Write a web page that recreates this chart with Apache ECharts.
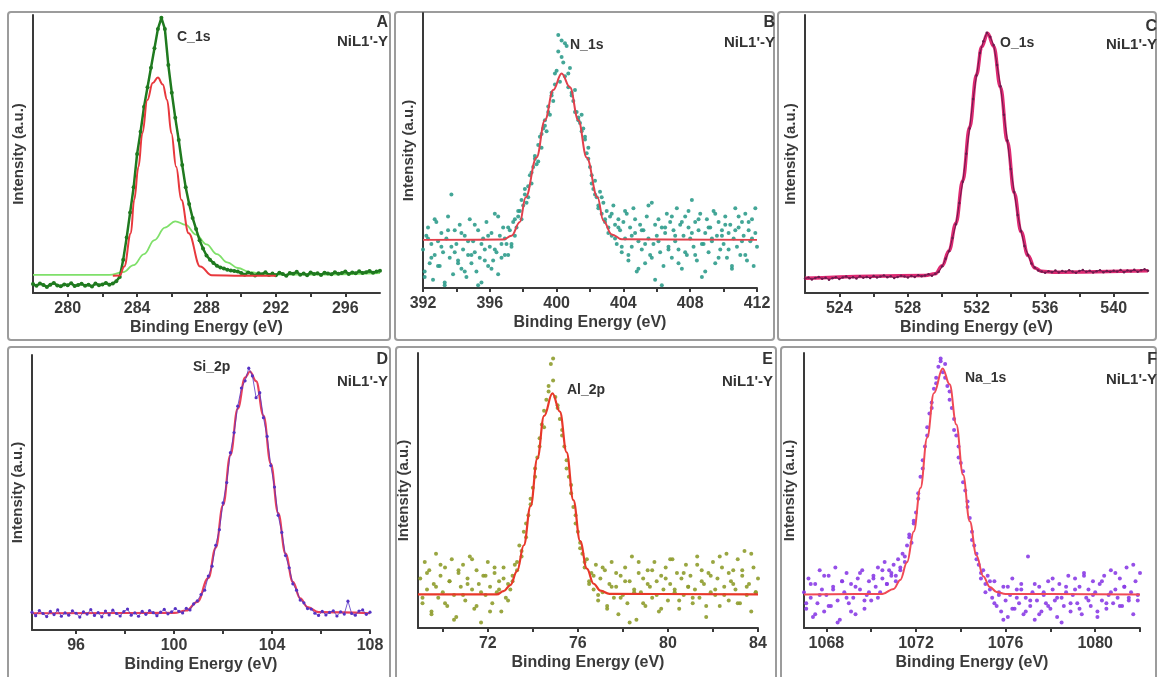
<!DOCTYPE html>
<html>
<head>
<meta charset="utf-8">
<title>XPS NiL1'-Y</title>
<script src="https://cdn.jsdelivr.net/npm/echarts@6/dist/echarts.min.js"></script>
<style>
  html, body {margin: 0; padding: 0; background: #fff;}
  #chart {width: 1158px; height: 677px;}
</style>
</head>
<body>
<div id="chart"></div>
<script>
// ---- 数据 (读自原图, 强度为任意单位 0-100) ----

// A: C_1s, 278-298 eV, 每 0.2 eV 一点
const cStart = 278, cStep = 0.2
const cData = [
  3.2, 2.6, 3.4, 2.9, 2.2, 3.0, 3.6, 2.7, 2.4, 3.1, 2.8, 3.5, 2.5, 2.9, 3.3, 2.6, 3.0, 2.3, 3.4, 2.8, 3.1, 3.6, 3.0, 3.4, 4.2, 5.8,
  12, 20, 29, 38, 50, 58, 67, 74, 81, 88, 95, 99,
  95, 82, 72, 63, 55, 46, 38, 32, 27, 23, 19, 16, 13.5, 12, 10.8, 9.8, 9.2, 8.8, 8.4, 8.1, 7.9, 7.7,
  7.2, 6.6, 7.4, 6.9, 6.3, 7.1, 6.7, 7.5, 6.5, 7.0, 6.4, 7.3, 6.8, 6.2, 7.2, 6.9, 7.6, 6.6, 7.0, 6.4,
  7.4, 6.8, 7.1, 6.5, 7.3, 7.0, 6.7, 7.5, 6.9, 7.2, 7.7, 6.8, 7.4, 7.1, 7.8, 7.2, 7.5, 7.9, 7.3, 7.7, 8.0
]
const cFitMain = [[282.6, 6.2], [283, 6.3], [283.26, 9.5], [283.64, 21.5], [283.83, 33.5], [284.08, 45.4], [284.3, 57.4],
  [284.59, 69.4], [284.9, 75.5], [285.2, 77.5], [285.48, 75], [285.73, 69.4], [285.98, 57.4], [286.25, 45.4],
  [286.55, 33.5], [286.97, 21.5], [287.64, 9.5], [288.3, 6.4], [290, 6.2], [292, 6.2]]
const cFitSecond = [[278, 6.5], [282.4, 6.5], [283.2, 7.5], [283.8, 10], [284.4, 14], [285, 19], [285.6, 23.5], [286.2, 25.8],
  [286.8, 24.5], [287.4, 21], [288, 17.5], [288.6, 14], [289.2, 11], [289.8, 9], [290.5, 7.5], [291.4, 6.6], [294, 6.6], [298, 7.2]]

// B: N_1s, 392-412 eV
const nStart = 392, nStep = 0.1
const nData = [
  14, 6, 19, 22, 9, 16, 3, 12, 24, 17,
  8, 20, 13, 1, 18, 26, 11, 15, 5, 21,
  16, 10, 23, 7, 14, 19, 4, 12, 25, 9,
  17, 13, 6, 21, 11, 2, 18, 14, 24, 8,
  15, 20, 10, 27, 13, 5, 19, 16, 22, 12,
  16, 12, 21, 15, 24, 19, 22, 26, 28, 25,
  30, 34, 31, 37, 41, 38, 44, 47, 45, 52,
  55, 51, 58, 61, 57, 66, 63, 70, 68, 74,
  79, 86, 75, 90, 82, 77, 88, 73, 80, 71,
  68, 72, 64, 62, 60, 57, 58, 54, 49, 47,
  44, 41, 36, 39, 33, 30, 35, 27, 31, 24,
  28, 22, 26, 19, 30, 23, 16, 25, 21, 13,
  24, 18, 27, 10, 22, 15, 29, 20, 6, 17,
  23, 14, 21, 9, 26, 18, 12, 31, 16, 3,
  19, 25, 13, 22, 8, 20, 27, 15, 24, 11,
  21, 17, 29, 14, 23, 7, 19, 26, 12, 22,
  18, 32, 15, 24, 10, 21, 27, 4, 16, 20,
  25, 13, 22, 17, 28, 9, 19, 24, 14, 21,
  16, 26, 11, 20, 23, 7, 18, 29, 15, 22,
  12, 24, 19, 27, 10, 21, 17, 25, 8, 20, 15
]
const nStart2 = 392.1, nStep2 = 0.2
const nData2 = [
  4, 18, 11, 25, 8, 15, 2, 21, 34, 13,
  9, 20, 6, 17, 12, 23, 1, 16, 10, 19,
  7, 14, 26, 11, 18, 22, 16, 25, 28, 32,
  36, 33, 42, 48, 46, 56, 59, 64, 71, 78,
  92, 84, 89, 78, 70, 64, 61, 63, 55, 51,
  38, 34, 29, 33, 25, 20, 27, 18, 22, 15,
  28, 12, 19, 25, 7, 21, 16, 30, 11, 23,
  17, 1, 22, 14, 26, 19, 9, 24, 13, 28,
  20, 12, 25, 16, 6, 22, 18, 27, 11, 19,
  23, 14, 8, 21, 26, 17, 12, 24, 18, 29
]
const nFit = [[392, 17.5], [396.8, 17.6], [397.3, 19], [397.8, 24], [398.15, 33], [398.8, 47.5], [399.3, 61], [399.8, 72],
  [400.3, 78], [400.8, 73], [401.3, 61], [401.8, 47.5], [402.45, 33], [402.8, 24.5], [403.3, 19.5], [403.9, 17.7], [412, 17.5]]

// C: O_1s, 522-542 eV
const oStart = 522, oStep = 0.2
const oData = [
  5.2, 5.6, 4.9, 5.4, 5.8, 5.1, 5.5, 4.8, 5.3, 5.7,
  5.0, 5.6, 5.9, 5.3, 5.7, 5.2, 6.0, 5.5, 5.8, 5.4,
  6.1, 5.6, 5.9, 6.3, 5.7, 6.0, 5.4, 5.8, 6.2, 5.9,
  5.6, 6.1, 5.8, 6.4, 6.0, 6.3, 6.7, 6.2, 6.9, 7.6,
  9.6, 12.3, 15.0, 19.8, 24.7, 32.4, 40.0, 50.1, 59.2, 69.8,
  78.2, 86.3, 90.6, 93.6, 92.1, 89.2, 82.0, 74.4, 64.1, 54.9,
  44.6, 36.3, 28.1, 22.3, 16.9, 13.8, 10.6, 9.2, 8.1, 7.7,
  7.3, 7.8, 7.5, 8.1, 7.4, 7.9, 7.6, 8.2, 7.7, 7.3,
  7.9, 8.3, 7.6, 8.0, 7.4, 7.8, 8.2, 7.5, 7.9, 7.6,
  8.0, 7.7, 8.3, 7.5, 8.1, 7.8, 8.4, 7.6, 8.2, 8.5, 8.0
]
const oFit = [[522, 5.3], [529, 6.3], [529.6, 6.9], [530, 9.8], [530.4, 15.2], [530.8, 25.1], [531.2, 40.4], [531.6, 59.6],
  [532, 78.5], [532.3, 88.5], [532.65, 93.4], [533, 88.8], [533.4, 74], [533.8, 54.5], [534.2, 36], [534.6, 22],
  [535, 13.5], [535.4, 9], [535.8, 7.8], [536.5, 7.5], [542, 8]]

// D: Si_2p, 94.2-108 eV
const siStart = 94.2, siStep = 0.15
const siData = [
  6.5, 5.2, 7.1, 6.0, 4.9, 6.8, 5.6, 7.3, 5.0, 6.2,
  5.4, 7.0, 6.1, 4.7, 6.6, 5.8, 7.4, 5.3, 6.3, 4.8,
  6.9, 5.5, 7.2, 6.0, 5.1, 6.7, 7.6, 5.4, 6.2, 5.0,
  6.8, 5.7, 7.1, 6.3, 5.2, 6.5, 7.5, 5.9, 6.6, 7.8,
  6.8, 6.2, 7.9, 7.3, 9.5, 10.6, 12.9, 14.5, 19.6, 23.2,
  30.8, 36.5, 46.2, 53.6, 64.5, 71.8, 81.4, 88.0, 90.6, 95.2,
  92.4, 84.5, 86.3, 77.2, 70.4, 59.8, 52.0, 41.7, 35.5, 27.1,
  22.6, 16.8, 14.5, 10.9, 9.9, 7.8, 7.6, 6.1, 5.3, 6.8,
  5.5, 6.4, 7.0, 5.1, 6.6, 5.8, 10.5, 6.0, 5.4, 6.9, 7.3, 5.7, 6.5
]
const siFit = [[94.2, 6.1], [100, 6.2], [100.5, 7.1], [100.95, 10.2], [101.4, 18.9], [101.7, 29.9], [102, 45.4], [102.3, 63.6],
  [102.6, 80.5], [102.9, 91.8], [103.1, 94], [103.35, 90.5], [103.65, 78], [103.95, 60.5], [104.25, 42.5], [104.55, 27.8],
  [104.85, 17.5], [105.15, 11.5], [105.45, 8.3], [105.9, 6.5], [108, 6.1]]

// E: Al_2p, 68.9-84 eV
const alStart = 69, alStep = 0.1
const alData = [
  18, 9, 24, 14, 21, 6, 16, 27, 11, 19,
  13, 22, 8, 17, 25, 12, 4, 20, 15, 23,
  10, 18, 26, 14, 7, 21, 16, 2, 19, 12,
  24, 15, 9, 20, 13, 17, 6, 22, 11, 16,
  14, 19, 23, 21, 30, 26, 35, 33, 41, 47,
  51, 58, 62, 69, 74, 79, 83, 88, 96, 90,
  84, 80, 76, 70, 66, 61, 55, 49, 44, 41,
  35, 31, 27, 22, 25, 17, 20, 14, 23, 10,
  18, 13, 21, 7, 16, 24, 11, 15, 5, 19,
  12, 22, 9, 17, 26, 14, 3, 20, 13, 18,
  8, 21, 15, 11, 24, 17, 6, 19, 14, 22,
  10, 16, 25, 13, 20, 7, 18, 12, 23, 15,
  19, 9, 14, 26, 11, 21, 16, 4, 20, 13,
  24, 12, 18, 8, 22, 15, 27, 10, 17, 21,
  14, 25, 9, 19, 28, 12, 16, 6, 22, 13, 18
]
const alStart2 = 69.1, alStep2 = 0.2
const alData2 = [
  11, 20, 5, 15, 23, 9, 17, 3, 21, 12,
  16, 25, 8, 13, 19, 6, 22, 14, 18, 10,
  17, 24, 28, 38, 45, 55, 66, 73, 86, 98,
  81, 72, 58, 52, 38, 29, 24, 16, 19, 12,
  22, 8, 15, 20, 11, 17, 2, 13, 24, 9,
  16, 21, 12, 7, 18, 25, 14, 10, 20, 15,
  11, 23, 17, 8, 19, 14, 26, 12, 20, 16,
  9, 21, 15, 27, 13
]
const alFit = [[68.9, 12.2], [72.4, 12.2], [72.7, 13.4], [73, 15.6], [73.3, 20.7], [73.6, 30.1], [73.9, 44.3], [74.2, 61.6],
  [74.5, 77.1], [74.87, 85.3], [75.2, 78.7], [75.5, 63.9], [75.8, 46.5], [76.1, 31.6], [76.4, 21.6], [76.7, 16.1],
  [77, 13.6], [77.4, 12.4], [84, 12.2]]

// F: Na_1s, 1067-1082 eV
const naStart = 1067, naStep = 0.1
const naData = [
  13, 7, 18, 11, 4, 16, 9, 21, 14, 6,
  12, 19, 8, 15, 22, 10, 3, 17, 13, 20,
  9, 16, 11, 5, 18, 14, 21, 7, 12, 17,
  10, 19, 15, 22, 13, 18, 24, 16, 21, 19,
  23, 17, 25, 21, 27, 24, 30, 34, 31, 38,
  42, 47, 55, 58, 66, 70, 78, 82, 87, 91,
  95, 98, 93, 96, 88, 86, 80, 76, 70, 66,
  60, 57, 50, 44, 40, 35, 30, 27, 23, 20,
  21, 16, 19, 14, 11, 17, 8, 13, 6, 15,
  10, 4, 12, 18, 7, 14, 9, 16, 5, 11,
  26, 8, 13, 3, 10, 15, 6, 12, 9, 17,
  7, 14, 10, 4, 16, 11, 8, 13, 19, 6,
  12, 18, 9, 15, 5, 20, 11, 14, 8, 17,
  13, 6, 16, 10, 19, 7, 12, 21, 9, 14,
  11, 18, 8, 15, 22, 10, 13, 5, 17, 12, 20
]
const naStart2 = 1067.1, naStep2 = 0.2
const naData2 = [
  9, 16, 5, 12, 19, 8, 14, 2, 17, 11,
  6, 15, 20, 10, 13, 18, 11, 21, 16, 20,
  19, 22, 26, 33, 39, 49, 61, 73, 80, 89,
  97, 91, 83, 72, 62, 53, 46, 32, 25, 18,
  13, 17, 9, 12, 3, 15, 7, 11, 14, 6,
  10, 16, 5, 13, 8, 18, 11, 2, 15, 9,
  14, 7, 19, 10, 12, 4, 17, 9, 13, 20,
  8, 15, 11, 23, 10
]
const naFit = [[1067, 12.2], [1070.5, 12.4], [1071, 14.2], [1071.3, 17.5], [1071.6, 23.9], [1071.9, 35.1], [1072.2, 50.9],
  [1072.5, 69.2], [1072.8, 85.4], [1073.19, 94.4], [1073.5, 88.6], [1073.8, 74], [1074.1, 55.7], [1074.4, 38.8],
  [1074.7, 26.4], [1075, 18.8], [1075.3, 14.9], [1075.6, 13.1], [1076, 12.4], [1082, 12.2]]

// 刻度
const xRanges = [[278, 298], [392, 412], [522, 542], [94.2, 108], [68.9, 84], [1067, 1082]]
const xLabels = [
  [280, 284, 288, 292, 296],
  [392, 396, 400, 404, 408, 412],
  [524, 528, 532, 536, 540],
  [96, 100, 104, 108],
  [72, 76, 80, 84],
  [1068, 1072, 1076, 1080]
]
const xTicks = [
  [280, 282, 284, 286, 288, 290, 292, 294, 296],
  [392, 394, 396, 398, 400, 402, 404, 406, 408, 410, 412],
  [524, 526, 528, 530, 532, 534, 536, 538, 540],
  [96, 98, 100, 102, 104, 106, 108],
  [70, 72, 74, 76, 78, 80, 82, 84],
  [1068, 1070, 1072, 1074, 1076, 1078, 1080, 1082]
]
const peakNames = ['C_1s', 'N_1s', 'O_1s', 'Si_2p', 'Al_2p', 'Na_1s']
const panelLetters = ['A', 'B', 'C', 'D', 'E', 'F']
const sampleName = "NiL1'-Y"

// ---- 布局 ----
const font = '"Liberation Sans", Arial, sans-serif'
const axisColor = '#3a3a3a'
const grids = [
  {left: 33, top: 15, width: 347, height: 278},
  {left: 423, top: 13, width: 334, height: 275},
  {left: 805, top: 15, width: 343, height: 278},
  {left: 32, top: 355, width: 338, height: 275},
  {left: 418, top: 353, width: 340, height: 275},
  {left: 804, top: 353, width: 336, height: 275},
]
const frames = [
  [8, 12, 382, 328], [395, 12, 379, 328], [778, 12, 378, 328],
  [8, 347, 382, 335], [396, 347, 380, 335], [781, 347, 375, 335],
]
// 标注位置: [字母右端x, 字母y, 样品名右端x, 样品名y, 峰名左端x, 峰名y]
const notes = [
  [388, 23, 388, 42, 177, 37],
  [775, 23, 775, 43, 570, 45],
  [1157, 27, 1157, 45, 1000, 43],
  [388, 360, 388, 382, 193, 367],
  [773, 360, 773, 382, 567, 390],
  [1157, 360, 1157, 380, 965, 378],
]

function toPairs(start, step, ys) {
  return ys.map((v, i) => [Math.round((start + i * step) * 1000) / 1000, v])
}

const xAxes = grids.map((g, i) => ({
  gridIndex: i,
  type: 'value',
  min: xRanges[i][0],
  max: xRanges[i][1],
  axisLine: {onZero: false, lineStyle: {color: axisColor, width: 2}},
  axisTick: {show: true, inside: false, length: 4, customValues: xTicks[i], lineStyle: {color: axisColor, width: 2}},
  axisLabel: {
    customValues: xLabels[i], margin: 8, color: axisColor, fontSize: 16, fontWeight: 'bold', fontFamily: font,
    formatter: v => String(v),
  },
  splitLine: {show: false},
  name: 'Binding Energy (eV)',
  nameLocation: 'middle',
  nameGap: 27,
  nameTextStyle: {color: axisColor, fontSize: 16, fontWeight: 'bold', fontFamily: font},
}))

const yAxes = grids.map((g, i) => ({
  gridIndex: i,
  type: 'value',
  min: 0,
  max: 100,
  axisLine: {show: true, onZero: false, lineStyle: {color: axisColor, width: 2}},
  axisTick: {show: false},
  axisLabel: {show: false},
  splitLine: {show: false},
  name: 'Intensity (a.u.)',
  nameLocation: 'middle',
  nameRotate: 90,
  nameGap: 7,
  nameTextStyle: {color: axisColor, fontSize: 15, fontWeight: 'bold', fontFamily: font},
}))

function fitLine(i, data, color, width, z) {
  return {
    type: 'line', xAxisIndex: i, yAxisIndex: i, data: data,
    showSymbol: false, smooth: 0.4, smoothMonotone: 'x',
    lineStyle: {color: color, width: width}, z: z, silent: true,
  }
}

function dotLine(i, data, color, size, width, z) {
  return {
    type: 'line', xAxisIndex: i, yAxisIndex: i, data: data,
    symbol: 'circle', symbolSize: size, showSymbol: true, showAllSymbol: true,
    itemStyle: {color: color}, lineStyle: {color: color, width: width}, z: z, silent: true,
  }
}

function dots(i, data, color, size, z) {
  return {
    type: 'scatter', xAxisIndex: i, yAxisIndex: i, data: data,
    symbolSize: size, itemStyle: {color: color, opacity: 0.9}, z: z, silent: true,
  }
}

const series = [
  // A
  fitLine(0, cFitSecond, '#7fe06a', 1.8, 1),
  dotLine(0, toPairs(cStart, cStep, cData), '#1f7a1f', 4, 2.5, 2),
  fitLine(0, cFitMain, '#e8383d', 2, 3),
  // B
  dots(1, toPairs(nStart, nStep, nData), '#2f9c8c', 4, 2),
  dots(1, toPairs(nStart2, nStep2, nData2), '#2f9c8c', 4, 2),
  fitLine(1, nFit, '#e2404c', 2, 3),
  // C
  fitLine(2, oFit, '#de2a72', 3.5, 1),
  dotLine(2, toPairs(oStart, oStep, oData), '#6e1a4e', 2.5, 1, 2),
  // D
  fitLine(3, siFit, '#e8405a', 2.2, 1),
  dotLine(3, toPairs(siStart, siStep, siData), '#5632c4', 3.2, 0.8, 2),
  // E
  dots(4, toPairs(alStart, alStep, alData), '#8e9c2c', 4, 2),
  dots(4, toPairs(alStart2, alStep2, alData2), '#8e9c2c', 4, 2),
  fitLine(4, alFit, '#e8382a', 2.2, 3),
  // F
  dots(5, toPairs(naStart, naStep, naData), '#8a3ce6', 4, 2),
  dots(5, toPairs(naStart2, naStep2, naData2), '#8a3ce6', 4, 2),
  fitLine(5, naFit, '#f04a56', 2, 3),
]

const graphics = []
frames.forEach(f => {
  graphics.push({
    type: 'rect', z: -1, silent: true,
    shape: {x: f[0], y: f[1], width: f[2], height: f[3], r: 3},
    style: {fill: 'none', stroke: '#9c9c9c', lineWidth: 2},
  })
})
notes.forEach((n, i) => {
  graphics.push({
    type: 'text', x: n[0], y: n[1], silent: true,
    style: {text: panelLetters[i], font: 'bold 16px ' + font, fill: '#333', align: 'right', verticalAlign: 'middle'},
  })
  graphics.push({
    type: 'text', x: n[2], y: n[3], silent: true,
    style: {text: sampleName, font: 'bold 15px ' + font, fill: '#333', align: 'right', verticalAlign: 'middle'},
  })
  graphics.push({
    type: 'text', x: n[4], y: n[5], silent: true,
    style: {text: peakNames[i], font: 'bold 14px ' + font, fill: '#333', align: 'left', verticalAlign: 'middle'},
  })
})

const myChart = echarts.init(document.getElementById('chart'))
myChart.setOption({
  animation: false,
  backgroundColor: '#fff',
  grid: grids,
  xAxis: xAxes,
  yAxis: yAxes,
  series: series,
  graphic: graphics,
})
window.addEventListener('resize', () => myChart.resize())
</script>
</body>
</html>
